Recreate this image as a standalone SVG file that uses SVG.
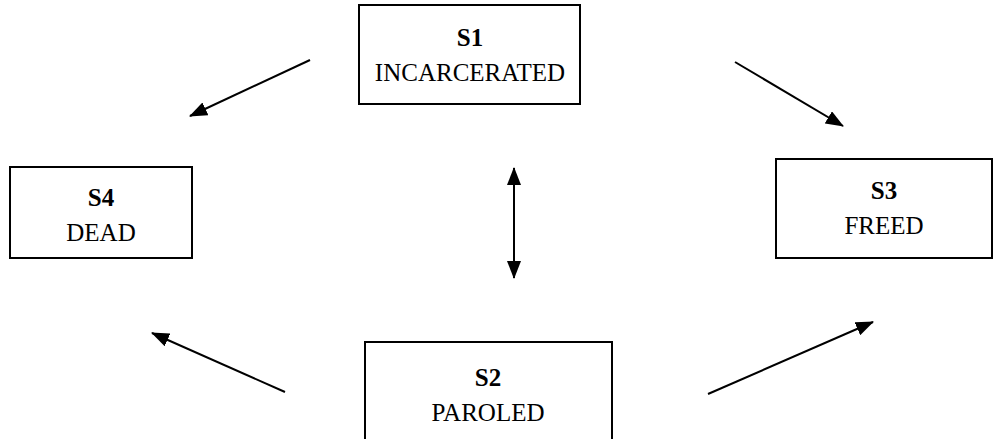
<svg xmlns="http://www.w3.org/2000/svg" width="1005" height="439" viewBox="0 0 1005 439">
<defs>
<marker id="ah" markerWidth="18" markerHeight="14" refX="17" refY="7" orient="auto" markerUnits="userSpaceOnUse">
<path d="M0,0 L18,7 L0,14 Z" fill="#000"/>
</marker>
<marker id="ahs" markerWidth="18" markerHeight="14" refX="1" refY="7" orient="auto" markerUnits="userSpaceOnUse">
<path d="M18,0 L0,7 L18,14 Z" fill="#000"/>
</marker>
<style>
.box{fill:#fff;stroke:#000;stroke-width:2}
.t{font-family:"Liberation Serif","Times New Roman",serif;font-size:25px;text-anchor:middle;fill:#000}
.b{font-weight:bold}
.c{stroke:#000;stroke-width:2;fill:none}
</style>
</defs>
<rect width="1005" height="439" fill="#fff"/>
<g id="connectors">
<line class="c" x1="310" y1="60" x2="190" y2="116" marker-end="url(#ah)"/>
<line class="c" x1="735" y1="62" x2="843" y2="126" marker-end="url(#ah)"/>
<line class="c" x1="514" y1="168" x2="514" y2="278" marker-start="url(#ahs)" marker-end="url(#ah)"/>
<line class="c" x1="285" y1="392" x2="152" y2="333" marker-end="url(#ah)"/>
<line class="c" x1="708" y1="394" x2="873" y2="322" marker-end="url(#ah)"/>
</g>
<g id="s1">
<rect class="box" x="359" y="5" width="221" height="99"/>
<text class="t b" x="470" y="46">S1</text>
<text class="t" x="470" y="81">INCARCERATED</text>
</g>
<g id="s4">
<rect class="box" x="10" y="167" width="182" height="91"/>
<text class="t b" x="101" y="206">S4</text>
<text class="t" x="101" y="241">DEAD</text>
</g>
<g id="s3">
<rect class="box" x="776" y="159" width="216" height="99"/>
<text class="t b" x="884" y="199">S3</text>
<text class="t" x="884" y="234">FREED</text>
</g>
<g id="s2">
<rect class="box" x="365" y="342" width="247" height="110"/>
<text class="t b" x="488" y="386">S2</text>
<text class="t" x="488" y="421">PAROLED</text>
</g>
</svg>
